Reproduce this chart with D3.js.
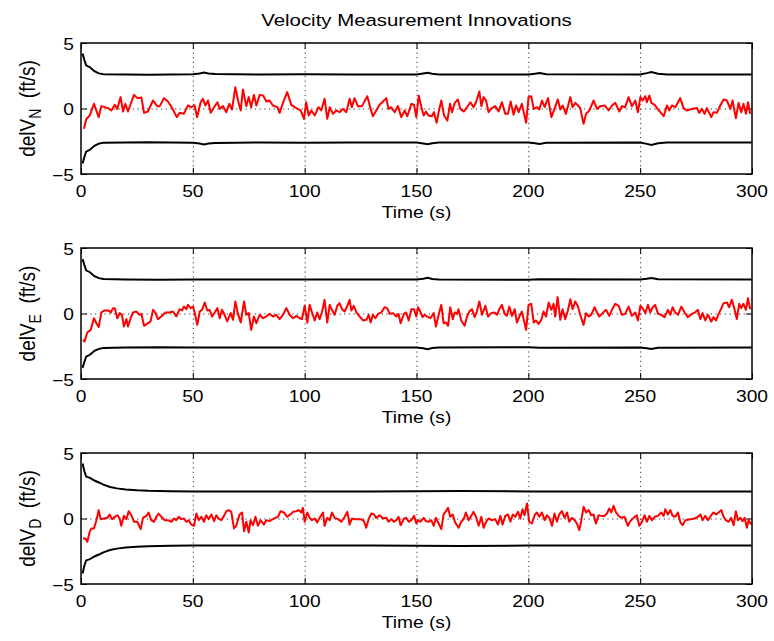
<!DOCTYPE html>
<html>
<head>
<meta charset="utf-8">
<script src="https://cdn.jsdelivr.net/npm/d3@7"></script>
<style>
  body { margin: 0; background: #fff; }
  text { font-family: "Liberation Sans", Arial, Helvetica, sans-serif; fill: #000; }
</style>
</head>
<body>
<svg id="fig" width="774" height="641"></svg>
<script>
// ---- data -------------------------------------------------------------
const titleText = "Velocity Measurement Innovations";
const xLabelText = "Time (s)";
const yLabelSubs = ["N", "E", "D"];
const xTicks = [0, 50, 100, 150, 200, 250, 300];
const yTicks = [-5, 0, 5];
const xDomain = [0, 300];
const yDomain = [-5, 5];

// innovation samples [time s, ft/s]
const innovN = [[1.3,-1.55],[2.4,-0.80],[3.9,-0.53],[5.8,0.36],[7.9,-0.66],[9.1,0.18],[12.1,0.03],[13.6,-0.15],[15.1,0.28],[16.2,-0.03],[17.7,0.87],[18.8,-0.23],[19.8,0.36],[21.0,-0.23],[23.7,1.04],[25.2,0.79],[27.0,0.84],[28.2,-0.33],[29.9,-0.23],[32.2,0.61],[34.1,0.18],[35.2,0.18],[37.1,0.79],[38.9,0.53],[41.1,-0.08],[42.8,-0.66],[44.1,-0.33],[46.0,-0.41],[47.8,0.23],[49.3,0.10],[50.8,0.23],[51.9,-0.66],[53.5,0.48],[54.5,0.74],[55.6,0.23],[56.8,0.61],[58.0,-0.33],[59.5,0.10],[61.0,0.48],[62.0,-0.03],[63.5,0.18],[65.0,-0.28],[66.3,0.36],[67.5,-0.08],[69.0,1.63],[70.2,0.61],[71.4,-0.15],[72.4,1.45],[73.9,0.18],[75.0,0.87],[76.1,0.10],[77.3,1.04],[78.4,0.23],[79.9,1.04],[81.4,0.99],[82.9,0.53],[84.3,0.61],[85.8,0.23],[87.8,0.10],[88.8,-0.33],[90.3,0.43],[92.2,1.25],[94.0,0.28],[96.3,0.03],[98.2,-0.15],[99.7,-0.79],[100.7,0.48],[101.8,-0.53],[103.0,-0.15],[104.5,-0.53],[106.2,0.10],[107.4,-0.15],[108.9,0.74],[110.1,-0.79],[111.2,0.10],[112.7,-0.41],[114.1,-0.15],[115.6,-0.28],[117.1,-0.03],[118.6,-0.28],[120.1,0.74],[121.1,0.10],[122.3,0.79],[123.8,0.18],[125.6,0.18],[128.0,0.94],[129.5,-0.03],[130.5,-0.59],[132.0,-0.15],[133.5,0.28],[135.0,0.53],[136.5,0.79],[137.5,-0.03],[138.7,0.10],[140.2,-0.28],[141.7,0.18],[143.2,-0.66],[144.7,-0.15],[145.9,-0.59],[147.7,0.36],[148.9,0.28],[149.9,-0.66],[151.0,0.99],[152.2,0.10],[153.2,-0.53],[154.2,-0.23],[155.4,-0.53],[156.9,-0.59],[157.8,-0.28],[159.0,-1.09],[160.2,-0.03],[161.1,0.61],[162.3,-0.53],[163.8,-0.92],[165.0,0.36],[165.9,-0.28],[167.1,0.43],[168.5,0.69],[169.6,-0.03],[171.1,-0.23],[172.6,0.10],[174.1,0.48],[175.5,0.10],[176.6,0.48],[178.1,1.30],[179.0,0.18],[180.0,0.87],[181.1,0.61],[182.2,-0.28],[183.7,0.03],[185.2,0.18],[186.7,-0.23],[188.2,0.48],[189.7,-0.41],[190.9,-0.41],[192.1,0.53],[193.4,-0.48],[194.5,0.23],[195.7,-0.28],[197.1,0.36],[199.0,-1.09],[200.1,0.87],[201.3,0.94],[202.4,-0.03],[203.9,0.10],[204.9,-0.08],[206.1,0.61],[207.3,0.10],[208.8,0.79],[210.3,-0.66],[211.8,0.03],[213.2,0.69],[214.3,-0.08],[215.3,0.23],[216.8,-0.41],[218.8,0.87],[219.8,0.10],[221.0,0.43],[222.2,0.23],[223.2,0.03],[224.7,-1.17],[225.8,-0.41],[227.3,-0.15],[229.2,0.61],[230.7,-0.03],[232.2,0.18],[234.1,0.23],[235.9,-0.15],[237.4,0.23],[238.9,0.43],[240.7,-0.23],[241.8,0.18],[243.3,0.10],[244.8,0.87],[246.3,0.18],[247.8,0.61],[249.0,-0.28],[250.1,0.87],[251.1,0.61],[252.3,0.94],[253.0,0.48],[254.1,0.99],[255.0,0.43],[256.5,0.28],[258.0,-0.08],[259.0,-0.28],[260.5,-0.59],[262.0,0.23],[263.0,-0.15],[264.2,0.23],[265.7,0.10],[267.9,0.79],[269.4,0.03],[270.9,-0.15],[273.1,-0.03],[275.4,0.03],[276.4,-0.33],[277.6,-0.03],[278.8,-0.41],[279.8,0.03],[281.8,-0.66],[282.8,-0.28],[284.3,-0.33],[285.8,0.23],[287.3,0.69],[288.8,0.61],[290.3,-0.03],[291.3,0.61],[292.8,-0.74],[294.0,0.43],[295.2,-0.28],[296.2,0.36],[297.3,-0.41],[298.2,0.48],[299.2,-0.41]];

const innovE = [[0.9,-2.01],[1.6,-2.14],[2.8,-1.45],[4.3,-1.25],[5.8,-0.36],[6.9,-0.74],[7.9,-1.04],[9.1,0.08],[10.6,0.23],[12.4,0.23],[13.3,0.08],[14.3,0.41],[15.1,0.41],[16.2,-0.36],[17.3,0.03],[18.3,-0.10],[19.2,-0.99],[20.3,-0.43],[21.0,-0.99],[22.2,-0.36],[23.2,0.08],[24.7,0.15],[26.2,-0.10],[27.0,-0.03],[28.2,-0.94],[30.0,-0.74],[31.1,-0.61],[32.2,0.28],[33.2,0.08],[34.4,-0.43],[35.9,-0.23],[37.7,0.08],[39.6,0.08],[41.1,0.15],[42.6,-0.23],[44.1,0.33],[45.2,0.23],[46.0,0.53],[47.1,0.33],[47.8,0.66],[49.0,0.41],[50.1,0.53],[50.8,0.08],[52.0,-0.87],[53.1,0.15],[54.1,0.28],[55.3,0.84],[56.5,0.23],[57.5,0.28],[58.6,-0.23],[59.8,0.08],[61.0,0.41],[62.0,-0.36],[63.0,0.28],[64.2,-0.10],[65.4,-0.61],[66.9,0.03],[68.0,-0.48],[69.0,0.92],[70.2,-0.03],[71.4,-0.69],[72.9,0.92],[73.9,-0.10],[75.0,0.03],[76.1,-1.25],[77.3,-0.23],[78.4,-0.74],[79.9,-0.10],[81.4,-0.36],[82.8,-0.23],[84.3,-0.03],[85.8,-0.23],[87.3,-0.10],[88.8,-0.43],[90.3,-0.10],[91.8,0.41],[93.3,-0.10],[94.8,-0.36],[96.3,-0.18],[97.8,-0.36],[98.8,-0.43],[100.0,0.59],[101.2,-0.69],[102.2,0.66],[103.3,0.08],[104.5,-0.53],[105.6,0.08],[106.7,-0.43],[107.7,0.08],[108.9,1.04],[110.1,-0.69],[111.2,0.66],[112.2,0.28],[113.4,-0.10],[114.6,0.59],[115.6,0.79],[116.7,0.33],[117.9,0.15],[119.1,0.59],[120.1,1.04],[120.9,0.23],[122.0,0.59],[123.1,0.08],[124.6,-0.23],[126.1,-0.53],[127.6,-0.48],[128.6,-0.10],[129.5,-0.69],[130.5,-0.10],[131.6,-0.36],[132.8,-0.03],[134.3,0.08],[135.7,0.48],[136.9,0.41],[138.0,-0.03],[139.5,0.03],[141.0,-0.23],[142.0,-0.03],[142.9,-0.74],[144.4,-0.03],[145.4,0.08],[146.5,-0.53],[147.7,0.33],[148.9,0.33],[149.9,-0.23],[150.7,0.48],[151.7,0.15],[152.7,-0.28],[153.6,-0.10],[154.7,-0.23],[156.2,-0.36],[157.7,0.03],[158.7,-0.99],[159.9,-0.10],[161.1,0.66],[162.1,-0.74],[163.2,-0.69],[164.1,-0.94],[165.1,0.48],[166.2,-0.43],[167.1,0.08],[168.1,-0.03],[168.8,0.33],[170.0,-0.53],[171.5,-0.94],[172.6,-0.23],[173.6,0.15],[174.8,0.33],[176.0,-0.28],[177.0,0.15],[178.1,0.92],[179.3,-0.10],[180.8,0.59],[182.0,-0.23],[183.4,0.03],[184.9,0.08],[186.0,-0.10],[187.0,0.33],[188.2,0.66],[189.4,-0.03],[190.4,-0.18],[191.5,0.53],[192.7,-0.18],[193.9,0.33],[194.9,-0.69],[196.0,-0.23],[197.1,0.15],[199.0,-1.25],[200.1,0.66],[201.3,0.74],[202.4,-0.69],[203.4,-0.53],[204.6,-0.79],[205.8,-0.48],[206.8,0.15],[207.9,-0.23],[209.1,0.84],[210.3,0.28],[211.3,0.74],[212.0,-0.23],[213.1,1.25],[214.3,-0.48],[215.3,0.33],[216.5,-0.43],[217.7,0.23],[218.8,1.09],[219.8,0.33],[221.0,0.92],[222.2,0.53],[223.2,-0.10],[224.7,-0.87],[225.8,0.03],[227.0,-0.23],[228.1,-0.10],[229.6,0.48],[230.7,0.08],[231.7,-0.23],[233.2,0.03],[234.7,0.28],[236.2,-0.18],[237.4,0.28],[238.9,0.74],[240.4,0.59],[241.8,-0.10],[243.3,-0.03],[244.8,0.53],[246.3,-0.18],[247.8,0.08],[249.0,-0.53],[250.1,0.59],[251.1,0.41],[252.3,0.03],[253.5,0.66],[254.5,0.08],[255.6,0.48],[256.7,0.66],[258.0,-0.03],[259.4,-0.10],[260.9,-0.28],[262.4,0.28],[263.5,-0.10],[264.5,0.48],[265.7,0.08],[266.9,-0.10],[268.4,0.53],[269.9,0.08],[271.3,-0.28],[273.1,-0.03],[274.6,0.08],[275.8,0.28],[276.9,-0.43],[277.9,0.03],[279.1,-0.53],[280.3,-0.10],[281.8,-0.61],[282.8,-0.28],[283.9,-0.53],[285.1,-0.03],[286.3,0.41],[287.3,0.79],[288.8,0.84],[289.8,0.48],[291.0,1.04],[292.2,0.33],[293.2,-0.43],[294.3,0.74],[295.2,0.41],[296.2,0.74],[297.3,0.28],[298.2,1.17],[299.2,0.33]];

const innovD = [[0.9,-1.53],[2.0,-1.53],[2.8,-1.78],[3.9,-1.02],[4.6,-0.76],[5.8,-0.76],[6.9,-0.13],[7.9,0.64],[8.8,-0.05],[10.3,0.00],[11.8,0.05],[12.8,0.31],[13.9,-0.05],[15.1,0.13],[16.2,0.25],[17.3,0.00],[18.0,-0.56],[19.2,0.20],[20.3,-0.05],[21.3,0.56],[22.5,0.25],[23.7,-0.25],[25.2,-0.25],[26.7,-0.81],[27.7,0.05],[29.2,0.20],[30.2,0.46],[31.4,-0.13],[32.6,-0.25],[33.7,0.13],[34.7,0.38],[35.9,0.13],[37.4,-0.13],[38.9,-0.13],[40.4,-0.25],[41.6,0.00],[42.6,-0.13],[43.7,0.13],[44.9,-0.05],[46.0,0.00],[47.1,-0.25],[48.1,-0.13],[49.3,-0.46],[50.5,-0.56],[51.6,0.38],[52.6,-0.13],[53.8,0.13],[55.0,-0.25],[56.0,0.25],[57.1,-0.05],[58.3,0.31],[59.5,-0.20],[60.5,0.25],[61.5,0.00],[62.7,-0.13],[63.9,0.20],[65.0,0.56],[66.0,0.64],[67.2,0.51],[68.4,-0.76],[69.4,-0.56],[70.9,0.31],[72.0,0.46],[72.9,-0.97],[73.9,-0.25],[75.0,-1.07],[75.8,-0.13],[76.9,-0.51],[78.0,0.13],[79.1,-0.56],[80.3,-0.13],[81.8,-0.46],[82.8,-0.13],[84.3,-0.20],[85.8,-0.05],[86.9,0.05],[88.1,0.13],[89.2,0.56],[90.7,0.46],[92.2,0.13],[93.7,0.31],[94.8,0.51],[96.3,0.56],[97.3,0.64],[98.5,0.46],[99.2,0.81],[100.0,-0.25],[101.2,0.46],[102.2,0.05],[103.3,-0.13],[104.5,0.00],[105.6,-0.31],[106.7,0.05],[108.2,0.46],[108.9,-0.56],[110.1,0.05],[111.2,-0.13],[112.2,0.46],[113.4,0.05],[114.9,-0.05],[116.4,-0.25],[117.9,0.13],[119.1,0.51],[120.1,-0.46],[121.1,0.00],[122.3,-0.05],[123.8,-0.05],[125.3,-0.05],[126.5,-0.20],[127.5,-0.71],[128.6,-0.05],[129.8,0.38],[131.0,0.31],[132.0,0.05],[133.5,0.25],[135.0,0.00],[136.5,0.05],[137.5,-0.25],[138.7,-0.05],[139.9,-0.25],[141.0,-0.13],[142.0,0.13],[142.9,-0.51],[144.4,0.00],[145.4,0.05],[146.5,-0.25],[147.7,-0.13],[148.9,0.20],[149.9,-0.38],[150.7,-0.13],[151.7,-0.25],[153.2,0.05],[154.2,-0.20],[155.4,-0.25],[156.6,-0.13],[157.7,-0.56],[158.7,0.05],[159.9,-0.38],[161.1,-0.81],[162.1,0.31],[163.2,0.56],[164.1,0.81],[165.1,0.13],[166.2,0.31],[167.3,-0.31],[168.8,-0.71],[170.0,-0.25],[171.1,-0.05],[172.1,0.46],[173.3,-0.13],[174.5,0.20],[175.5,0.51],[176.6,0.13],[177.8,-0.56],[179.0,0.13],[180.0,-0.71],[181.1,-0.25],[182.2,0.00],[183.7,-0.13],[185.2,-0.05],[186.4,-0.46],[187.5,0.20],[188.5,-0.46],[189.7,0.20],[190.9,0.31],[192.0,-0.25],[193.0,0.31],[194.2,0.13],[195.4,0.51],[196.4,0.00],[197.4,0.71],[198.3,0.25],[199.4,1.15],[200.4,-0.25],[201.6,-0.38],[202.8,0.25],[203.8,0.46],[204.9,0.13],[206.1,0.46],[207.3,-0.13],[208.3,0.25],[209.4,0.05],[210.6,-0.56],[211.7,0.38],[212.8,-0.25],[213.8,0.31],[215.0,0.56],[216.2,0.05],[217.3,0.46],[218.3,-0.25],[219.5,0.05],[220.7,-0.13],[221.7,-0.38],[222.8,-0.89],[223.7,-0.13],[224.7,0.89],[225.8,0.46],[227.0,0.64],[228.1,0.25],[229.2,0.31],[230.2,-0.38],[231.4,0.25],[232.6,0.20],[234.1,0.20],[235.1,0.38],[236.2,0.76],[237.1,0.46],[238.1,0.97],[239.2,0.46],[240.4,0.20],[241.6,0.05],[243.0,0.13],[244.5,-0.56],[245.6,-0.20],[247.1,0.05],[248.5,0.25],[249.6,-0.56],[250.8,-0.25],[252.0,0.25],[253.0,-0.25],[254.1,0.20],[255.3,-0.13],[256.5,0.13],[258.0,0.20],[259.4,0.46],[260.5,0.20],[261.2,0.71],[262.4,0.31],[263.5,0.64],[264.5,0.20],[265.7,0.13],[266.9,0.46],[268.0,-0.31],[269.0,-0.51],[270.2,-0.13],[272.4,-0.05],[274.3,0.00],[275.8,0.13],[276.9,0.31],[277.9,-0.13],[279.1,0.20],[280.3,-0.13],[281.8,0.25],[282.8,0.46],[283.9,0.31],[285.1,0.46],[286.3,0.64],[287.3,0.13],[288.3,-0.13],[289.5,-0.25],[290.7,0.05],[291.8,-0.51],[292.8,0.56],[293.7,-0.13],[294.8,0.05],[295.8,-0.20],[296.7,0.05],[297.7,-0.71],[298.5,-0.13],[299.7,-0.46]];

// one-sigma envelopes [time s, ft/s], drawn as +/- bounds
const sigmaN = [[0.7,4.2],[1.5,3.7],[2.3,3.3],[4,3.15],[6,2.85],[8,2.68],[10,2.62],[20,2.6],[30,2.57],[40,2.6],[50,2.62],[53,2.68],[55,2.75],[57,2.68],[60,2.63],[80,2.6],[100,2.62],[120,2.6],[150,2.6],[153,2.67],[155,2.72],[157,2.65],[160,2.6],[200,2.6],[203,2.66],[205,2.7],[208,2.62],[250,2.6],[253,2.7],[255,2.78],[258,2.65],[262,2.6],[300,2.6]];
const sigmaE = [[0.7,4.15],[1.5,3.7],[2.3,3.3],[4,3.15],[6,2.85],[8,2.7],[10,2.63],[20,2.6],[35,2.57],[50,2.6],[100,2.6],[150,2.6],[153,2.66],[155,2.72],[157,2.64],[160,2.6],[200,2.58],[205,2.62],[250,2.6],[253,2.66],[255,2.7],[258,2.62],[300,2.6]];
const sigmaD = [[0.7,4.2],[1.5,3.6],[2.3,3.2],[4,3.1],[6,2.9],[8,2.75],[10,2.58],[13,2.4],[16,2.3],[20,2.22],[25,2.16],[30,2.12],[40,2.08],[50,2.06],[60,2.07],[80,2.06],[100,2.06],[130,2.07],[150,2.08],[170,2.1],[200,2.06],[230,2.06],[260,2.07],[300,2.07]];

// ---- layout -----------------------------------------------------------
const svg = d3.select("#fig");
const left = 81, right = 752, panelH = 131;
const panelTops = [43, 248, 453];
const panels = [
  { innov: innovN, sigma: sigmaN, sub: yLabelSubs[0] },
  { innov: innovE, sigma: sigmaE, sub: yLabelSubs[1] },
  { innov: innovD, sigma: sigmaD, sub: yLabelSubs[2] }
];
const xs = 1.2; // horizontal text stretch
const fmt = v => (v < 0 ? "\u2212" + Math.abs(v) : String(v));

const x = d3.scaleLinear().domain(xDomain).range([left, right]);

// title
svg.append("g")
  .attr("transform", `translate(${(left + right) / 2},26) scale(${xs},1)`)
  .append("text").attr("text-anchor", "middle").attr("font-size", 17)
  .text(titleText);

panels.forEach((p, i) => {
  const top = panelTops[i], bottom = top + panelH;
  const y = d3.scaleLinear().domain(yDomain).range([bottom, top]);
  const g = svg.append("g");

  // dotted grid
  const grid = g.append("g").attr("stroke", "#333").attr("stroke-width", 1)
    .attr("stroke-dasharray", "1.2,3.5");
  grid.selectAll("line.gx").data(xTicks.filter(t => t > xDomain[0] && t < xDomain[1]))
    .join("line").attr("class", "gx")
    .attr("x1", d => x(d) + 0.5).attr("x2", d => x(d) + 0.5)
    .attr("y1", top).attr("y2", bottom);
  grid.selectAll("line.gy").data(yTicks.filter(t => t > yDomain[0] && t < yDomain[1]))
    .join("line").attr("class", "gy")
    .attr("x1", left).attr("x2", right)
    .attr("y1", d => y(d) + 0.5).attr("y2", d => y(d) + 0.5);

  // inward ticks on all four sides
  const tk = 6;
  const axB = g.append("g").attr("transform", `translate(0,${bottom})`)
    .call(d3.axisBottom(x).tickValues(xTicks).tickSize(-tk).tickFormat(""));
  const axT = g.append("g").attr("transform", `translate(0,${top})`)
    .call(d3.axisTop(x).tickValues(xTicks).tickSize(-tk).tickFormat(""));
  const axL = g.append("g").attr("transform", `translate(${left},0)`)
    .call(d3.axisLeft(y).tickValues(yTicks).tickSize(-tk).tickFormat(""));
  const axR = g.append("g").attr("transform", `translate(${right},0)`)
    .call(d3.axisRight(y).tickValues(yTicks).tickSize(-tk).tickFormat(""));
  [axB, axT, axL, axR].forEach(a => {
    a.select(".domain").remove();
    a.selectAll("line").attr("stroke", "#000").attr("stroke-width", 1);
  });

  // series
  const line = d3.line().x(d => x(d[0])).y(d => y(d[1]));
  g.append("path").datum(p.sigma).attr("d", line)
    .attr("fill", "none").attr("stroke", "#000").attr("stroke-width", 2);
  g.append("path").datum(p.sigma.map(d => [d[0], -d[1]])).attr("d", line)
    .attr("fill", "none").attr("stroke", "#000").attr("stroke-width", 2);
  g.append("path").datum(p.innov).attr("d", line)
    .attr("fill", "none").attr("stroke", "#ff0000").attr("stroke-width", 2)
    .attr("stroke-linejoin", "round");

  // box
  g.append("rect").attr("x", left).attr("y", top)
    .attr("width", right - left).attr("height", bottom - top)
    .attr("fill", "none").attr("stroke", "#000").attr("stroke-width", 1.5);

  // tick labels
  g.selectAll("g.xl").data(xTicks).join("g").attr("class", "xl")
    .attr("transform", d => `translate(${x(d)},${bottom + 22.5}) scale(${xs},1)`)
    .append("text").attr("text-anchor", "middle").attr("font-size", 16)
    .text(d => d);
  g.selectAll("g.yl").data(yTicks).join("g").attr("class", "yl")
    .attr("transform", d => `translate(${left - 7},${y(d) + 6.5}) scale(${xs},1)`)
    .append("text").attr("text-anchor", "end").attr("font-size", 16)
    .text(d => fmt(d));

  // axis labels
  g.append("g").attr("transform", `translate(${(left + right) / 2},${bottom + 44}) scale(${xs},1)`)
    .append("text").attr("text-anchor", "middle").attr("font-size", 16)
    .text(xLabelText);

  const yl = g.append("g")
    .attr("transform", `translate(35,${(top + bottom) / 2}) scale(${xs},1) rotate(-90)`)
    .append("text").attr("text-anchor", "middle").attr("font-size", 19);
  yl.append("tspan").text("delV");
  yl.append("tspan").attr("font-size", 14).attr("dy", 5).text(p.sub);
  yl.append("tspan").attr("dy", -5).text("\u00a0\u00a0(ft/s)");
});
</script>
</body>
</html>
